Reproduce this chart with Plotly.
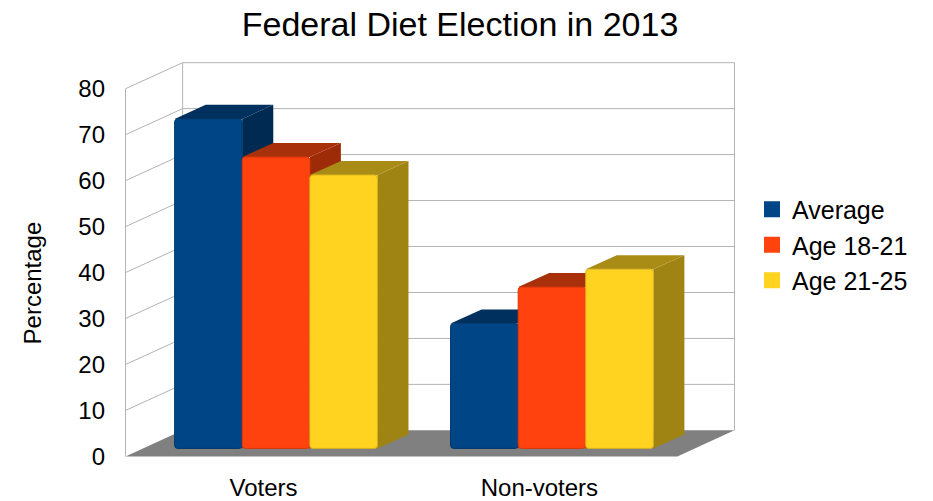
import plotly.graph_objects as go

# ---------------- data ----------------
categories = ["Voters", "Non-voters"]
series_names = ["Average", "Age 18-21", "Age 21-25"]
average = [71.7, 27.2]
age_18_21 = [63.4, 35.1]
age_21_25 = [59.5, 39.0]
y_ticks = [0, 10, 20, 30, 40, 50, 60, 70, 80]

series_values = [average, age_18_21, age_21_25]

# ---------------- style ----------------
front_colors = ["#004586", "#ff420e", "#ffd320"]
edge_colors = ["#00386c", "#d8380c", "#d8b21b"]
top_colors = ["#00305e", "#a8300a", "#a98c16"]
side_colors = ["#002a52", "#9e2b08", "#9f8414"]
floor_color = "#808080"
wall_color = "#b3b3b3"
FONT = "Liberation Sans, Arial, sans-serif"

# pseudo-3D geometry in axis units
WALL_DX, WALL_DY = 0.207, 5.67      # depth of floor / walls
GROUP_START, BAR_W = 0.178, 0.245   # bar placement inside a category
BAR_BASE = 1.74                     # front face of bars sits a bit inside the floor
BAR_DX, BAR_DY = 0.1125, 3.05       # depth of each bar
Y_MAX = y_ticks[-1]
N = len(categories)

# pixel mapping (for margins)
PX_X0, PX_PER_X = 126, 275.5
PX_Y0, PX_PER_Y = 456, 4.5875
W, H = 933, 501
x_range = [-0.02, N + WALL_DX + 0.02]
y_range = [-1.0, Y_MAX + WALL_DY + 0.8]
m_l = PX_X0 + x_range[0] * PX_PER_X
m_r = W - (PX_X0 + x_range[1] * PX_PER_X)
m_b = H - (PX_Y0 - y_range[0] * PX_PER_Y)
m_t = PX_Y0 - y_range[1] * PX_PER_Y

fig = go.Figure()
shapes = []


def poly(pts, color, layer):
    path = "M " + " L ".join(f"{x},{y}" for x, y in pts) + " Z"
    return dict(type="path", path=path, xref="x", yref="y", fillcolor=color,
                line=dict(width=0), layer=layer)


def seg(x0, y0, x1, y1):
    return dict(type="line", x0=x0, y0=y0, x1=x1, y1=y1, xref="x", yref="y",
                line=dict(color=wall_color, width=1), layer="below")


# floor
shapes.append(poly([(0, 0), (N, 0), (N + WALL_DX, WALL_DY), (WALL_DX, WALL_DY)],
                   floor_color, "below"))
# walls & grid
shapes.append(seg(0, 0, 0, Y_MAX))
shapes.append(seg(WALL_DX, WALL_DY, WALL_DX, Y_MAX + WALL_DY))
shapes.append(seg(N + WALL_DX, WALL_DY, N + WALL_DX, Y_MAX + WALL_DY))
for v in y_ticks[1:]:
    shapes.append(seg(0, v, WALL_DX, v + WALL_DY))
    shapes.append(seg(WALL_DX, v + WALL_DY, N + WALL_DX, v + WALL_DY))

# bars (front faces as bar traces, top/side faces as shapes)
for ci in range(N):
    for si, vals in enumerate(series_values):
        x0 = ci + GROUP_START + si * BAR_W
        x1 = x0 + BAR_W
        top = BAR_BASE + vals[ci]
        shapes.append(poly([(x1, BAR_BASE), (x1, top), (x1 + BAR_DX, top + BAR_DY),
                            (x1 + BAR_DX, BAR_BASE + BAR_DY)], side_colors[si], "between"))
        shapes.append(poly([(x0, top), (x1, top), (x1 + BAR_DX, top + BAR_DY),
                            (x0 + BAR_DX, top + BAR_DY)], top_colors[si], "between"))

for si, (name, vals) in enumerate(zip(series_names, series_values)):
    xs = [ci + GROUP_START + si * BAR_W + BAR_W / 2 for ci in range(N)]
    fig.add_trace(go.Bar(
        x=xs, y=vals, base=BAR_BASE, width=BAR_W, name=name, showlegend=False,
        marker=dict(color=front_colors[si], line=dict(color=edge_colors[si], width=1),
                    cornerradius=3),
        hovertemplate=name + ": %{y}<extra></extra>",
    ))
    fig.add_trace(go.Scatter(
        x=[None], y=[None], mode="markers", name=name,
        marker=dict(symbol="square", size=16, color=front_colors[si]),
    ))

fig.update_layout(
    width=W, height=H,
    margin=dict(l=m_l, r=m_r, t=m_t, b=m_b, autoexpand=False),
    paper_bgcolor="white", plot_bgcolor="white",
    font=dict(family=FONT, size=24, color="#000000"),
    title=dict(text="Federal Diet Election in 2013", font=dict(size=34),
               x=460 / W, xanchor="center", y=1 - 24 / H, yanchor="middle",
               xref="container", yref="container"),
    barmode="overlay",
    shapes=shapes,
    showlegend=True,
    legend=dict(xref="container", yref="container", x=752 / W, y=1 - 245 / H,
                xanchor="left", yanchor="middle", font=dict(size=25),
                tracegroupgap=0, bgcolor="rgba(0,0,0,0)", itemclick=False),
    annotations=[dict(text="Percentage", textangle=-90, xref="paper", yref="paper",
                      x=(33 - m_l) / (W - m_l - m_r), y=(H - m_b - 283) / (H - m_b - m_t),
                      xanchor="center", yanchor="middle", showarrow=False,
                      font=dict(size=24))],
)
fig.update_xaxes(range=x_range, tickvals=[ci + 0.5 for ci in range(N)], ticktext=categories,
                 showgrid=False, zeroline=False, showline=False, ticks="",
                 ticklabelstandoff=10, fixedrange=True)
fig.update_yaxes(range=y_range, tickvals=y_ticks, showgrid=False, zeroline=False,
                 showline=False, ticks="", ticklabelstandoff=14, fixedrange=True)

fig.write_html("out.html", config={"displayModeBar": False},
               post_script="document.body.style.margin='0px';")
